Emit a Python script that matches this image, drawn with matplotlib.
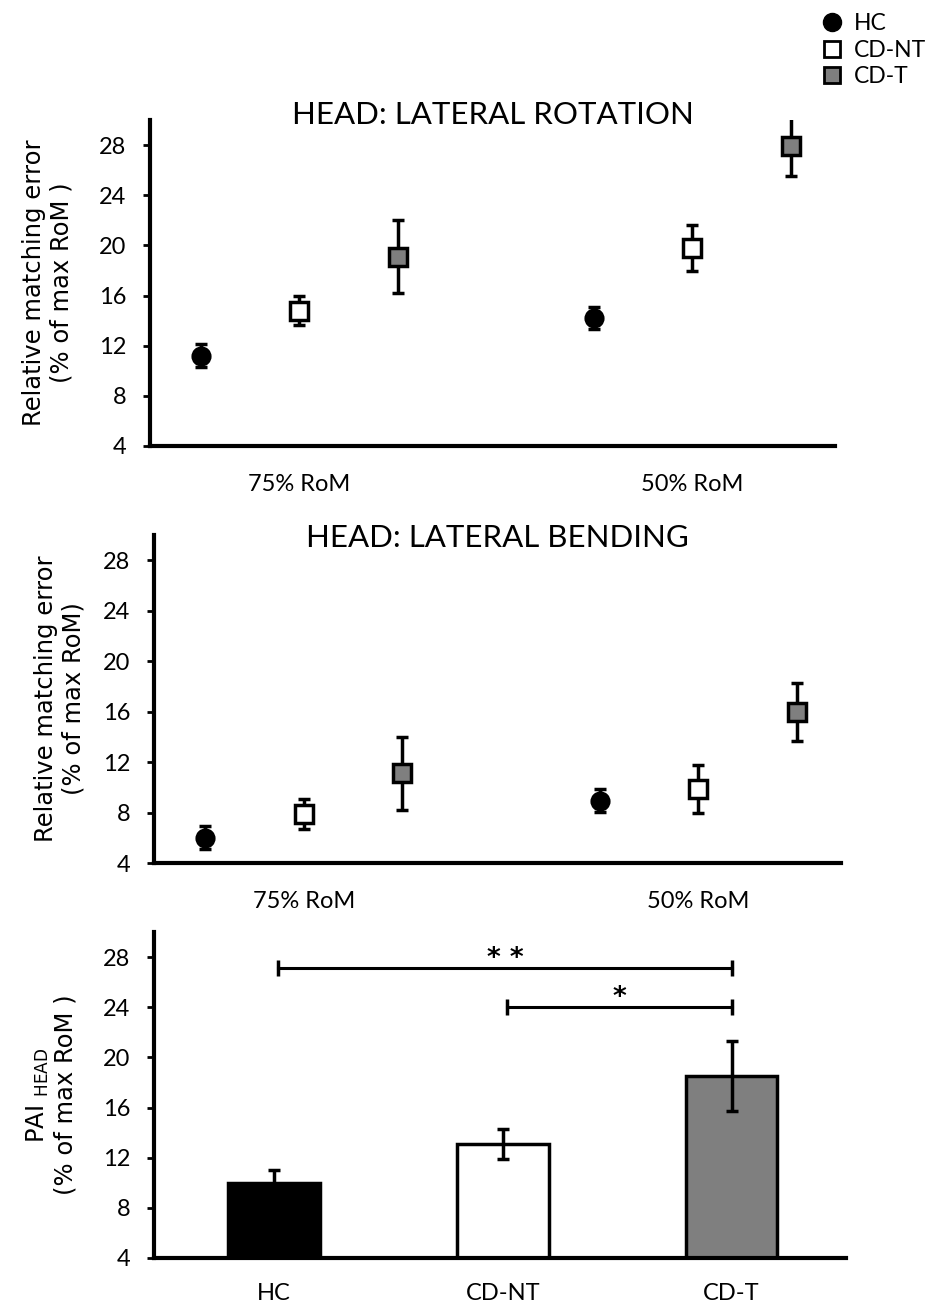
import matplotlib
matplotlib.use("Agg")
import matplotlib.pyplot as plt
from matplotlib.lines import Line2D

# group means and SEs, relative matching error (% of max RoM)
groups = ["75% RoM", "50% RoM"]
rot_hc = [11.2, 14.2]
rot_hc_err = [0.9, 0.85]
rot_nt = [14.8, 19.8]
rot_nt_err = [1.15, 1.85]
rot_t = [19.1, 27.9]
rot_t_err = [2.9, 2.4]

bend_hc = [6.0, 8.95]
bend_hc_err = [0.9, 0.9]
bend_nt = [7.9, 9.9]
bend_nt_err = [1.2, 1.9]
bend_t = [11.1, 16.0]
bend_t_err = [2.9, 2.3]

subjects = ["HC", "CD-NT", "CD-T"]
pai = [10.0, 13.1, 18.5]
pai_err = [1.0, 1.2, 2.8]

# (from, to, height, stars)
sig = [("HC", "CD-T", 27.1, "* *"), ("CD-NT", "CD-T", 24.0, "*")]

GRAY = "#7f7f7f"
TICK_FONT = "Lato"
LABEL_FONT = "DejaVu Sans"

W, H = 935, 1304
fig = plt.figure(figsize=(W / 100, H / 100), dpi=100)


def px_axes(left, top, right, bottom):
    return fig.add_axes([left / W, 1 - bottom / H, (right - left) / W,
                         (bottom - top) / H])


def style_axes(ax):
    for s in ["top", "right"]:
        ax.spines[s].set_visible(False)
    for s in ["left", "bottom"]:
        ax.spines[s].set_linewidth(3)
    ax.set_ylim(4, 30)
    ax.set_yticks(range(4, 29, 4))
    ax.tick_params(axis="y", direction="out", length=5, width=2,
                   labelsize=17, pad=12)
    ax.tick_params(axis="x", length=0, labelsize=17)
    for lbl in ax.get_yticklabels() + ax.get_xticklabels():
        lbl.set_fontfamily(TICK_FONT)


def draw_points(ax, hc, hc_err, nt, nt_err, t, t_err):
    styles = [(hc, hc_err, "o", "black", 12),
              (nt, nt_err, "s", "white", 13),
              (t, t_err, "s", GRAY, 13)]
    for i, (vals, errs, m, fc, ms) in enumerate(styles):
        xs = [i, i + 4]
        ax.errorbar(xs, vals, yerr=errs, fmt=m, mfc=fc, mec="black",
                    mew=2.5, ms=ms, ecolor="black", elinewidth=2.5,
                    capsize=4, capthick=2.5, zorder=3)
    ax.set_xlim(-0.52, 6.45)
    ax.set_xticks([1, 5])
    ax.set_xticklabels(groups)


def ylabel(ax, text, x):
    ax.set_ylabel(text, fontsize=17.5, family=LABEL_FONT, linespacing=1.15)
    ax.yaxis.set_label_coords(x, 0.5)


# head lateral rotation
ax1 = px_axes(150, 120, 835, 446)
draw_points(ax1, rot_hc, rot_hc_err, rot_nt, rot_nt_err, rot_t, rot_t_err)
style_axes(ax1)
ax1.tick_params(axis="x", pad=20)
ylabel(ax1, "Relative matching error\n(% of max RoM )", -0.112)
ax1.text(0.5, 0.988, "HEAD: LATERAL ROTATION", transform=ax1.transAxes,
         ha="center", va="baseline", fontsize=22.5, family=TICK_FONT)

# head lateral bending
ax2 = px_axes(154, 535, 841, 863)
draw_points(ax2, bend_hc, bend_hc_err, bend_nt, bend_nt_err, bend_t,
            bend_t_err)
style_axes(ax2)
ax2.tick_params(axis="x", pad=20)
ylabel(ax2, "Relative matching error\n(% of max RoM)", -0.1)
ax2.text(0.5, 0.963, "HEAD: LATERAL BENDING", transform=ax2.transAxes,
         ha="center", va="baseline", fontsize=22.5, family=TICK_FONT)

# proprioceptive accuracy index
ax3 = px_axes(154, 932, 846, 1258)
xb = list(range(len(subjects)))
ax3.bar(xb, [v - 4 for v in pai], bottom=4, width=0.4,
        color=["black", "white", GRAY], edgecolor="black", linewidth=2.5,
        zorder=2)
ax3.errorbar(xb, pai, yerr=pai_err, fmt="none", ecolor="black",
             elinewidth=2.5, capsize=4, capthick=2.5, zorder=3)
for a, b, y, stars in sig:
    xa, xb_ = subjects.index(a) + 0.02, subjects.index(b)
    ax3.plot([xa, xb_], [y, y], color="black", lw=2.2, marker="|", ms=12,
             mew=2.5, zorder=3)
    ax3.text((xa + xb_) / 2, y + 0.15, stars, ha="center", va="baseline",
             fontsize=19, fontweight="bold", family=LABEL_FONT)
ax3.set_xlim(-0.524, 2.5)
ax3.set_xticks(xb)
ax3.set_xticklabels(subjects)
style_axes(ax3)
ax3.tick_params(axis="x", pad=18)
ylabel(ax3, "PAI $_{\\mathrm{HEAD}}$\n(% of max RoM )", -0.11)

# legend
handles = [
    Line2D([], [], ls="none", marker="o", mfc="black", mec="black", ms=13),
    Line2D([], [], ls="none", marker="s", mfc="white", mec="black",
           mew=2, ms=11),
    Line2D([], [], ls="none", marker="s", mfc=GRAY, mec="black", mew=2,
           ms=11),
]
fig.legend(handles, subjects, loc="upper left",
           bbox_to_anchor=(821 / W, 1 - 13 / H), frameon=False,
           prop={"family": TICK_FONT, "size": 16.5}, handlelength=1.0,
           handletextpad=0.45, labelspacing=0.25, borderpad=0,
           borderaxespad=0)

fig.savefig("out.png", dpi=100)
